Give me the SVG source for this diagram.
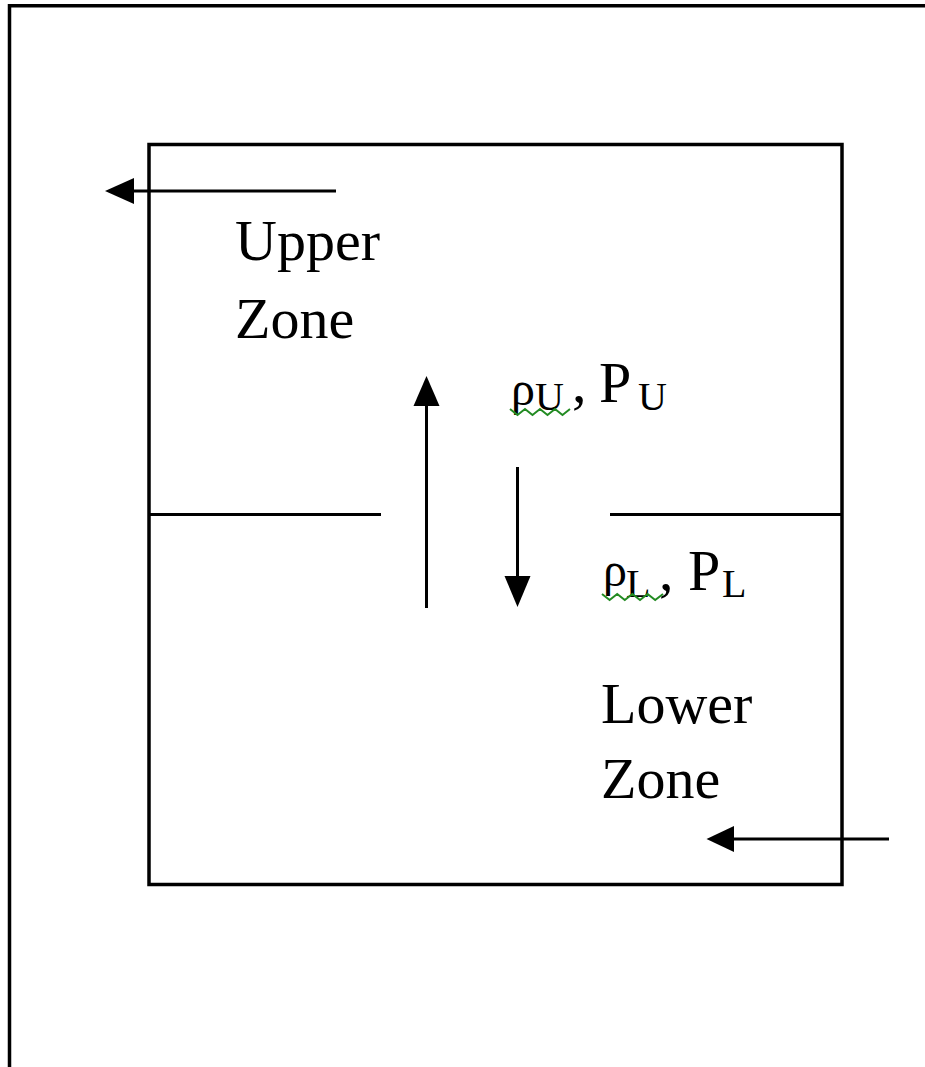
<svg xmlns="http://www.w3.org/2000/svg" width="925" height="1067" viewBox="0 0 925 1067">
  <style>
    .ln { stroke: #000; stroke-width: 3; fill: none; stroke-linecap: butt; }
    .hd { fill: #000; stroke: none; }
    .t { font-family: "Liberation Serif", "Times New Roman", serif; fill: #000; }
    .big { font-size: 58px; }
    .rho { font-size: 48px; }
    .sub { font-size: 40px; }
    .sq { stroke: #228b22; stroke-width: 2; fill: none; }
  </style>
  <rect x="0" y="0" width="925" height="1067" fill="#fff"/>

  <g id="page-frame">
    <line class="ln" x1="9.5" y1="5.7" x2="925" y2="5.7" style="stroke-width:3.5"/>
    <line class="ln" x1="9.5" y1="4" x2="9.5" y2="1067" style="stroke-width:3.5"/>
  </g>

  <g id="enclosure">
    <rect class="ln" x="149" y="144.5" width="693" height="740" style="stroke-width:3.5"/>
  </g>

  <g id="partition">
    <line class="ln" x1="149" y1="514.5" x2="381" y2="514.5"/>
    <line class="ln" x1="610" y1="514.5" x2="842" y2="514.5"/>
  </g>

  <g id="upper-zone">
    <text class="t big" x="235" y="260">Upper</text>
    <text class="t big" x="235" y="338">Zone</text>
  </g>

  <g id="upper-state">
    <text class="t" y="405"><tspan class="rho" x="511">ρ</tspan><tspan class="sub" x="535" dy="5">U</tspan><tspan class="big" x="572" dy="-8">,</tspan><tspan class="big" x="599">P</tspan><tspan class="sub" x="638" dy="8">U</tspan></text>
    <polyline class="sq" points="510,409 517.5,415 525,409 532.5,415 540,409 547.5,415 555,409 562.5,415 570,409"/>
  </g>

  <g id="lower-state">
    <text class="t" y="586"><tspan class="rho" x="603">ρ</tspan><tspan class="sub" x="626" dy="11">L</tspan><tspan class="big" x="659" dy="-7">,</tspan><tspan class="big" x="688">P</tspan><tspan class="sub" x="722" dy="7">L</tspan></text>
    <polyline class="sq" points="602,594 609.6,600 617.2,594 624.8,600 632.4,594 640,600 647.6,594 655.2,600 663,594"/>
  </g>

  <g id="lower-zone">
    <text class="t big" x="601" y="723">Lower</text>
    <text class="t big" x="601" y="798">Zone</text>
  </g>

  <g id="connectors">
    <line class="ln" x1="132" y1="191" x2="336" y2="191"/>
    <polygon class="hd" points="105,191 134,178 134,204"/>
    <line class="ln" x1="426.5" y1="608" x2="426.5" y2="404"/>
    <polygon class="hd" points="426.5,376 413.5,406 439.5,406"/>
    <line class="ln" x1="517.5" y1="467" x2="517.5" y2="578"/>
    <polygon class="hd" points="517.5,607 504.5,576 530.5,576"/>
    <line class="ln" x1="732" y1="839" x2="889" y2="839"/>
    <polygon class="hd" points="706.5,839 734,826 734,852"/>
  </g>
</svg>
